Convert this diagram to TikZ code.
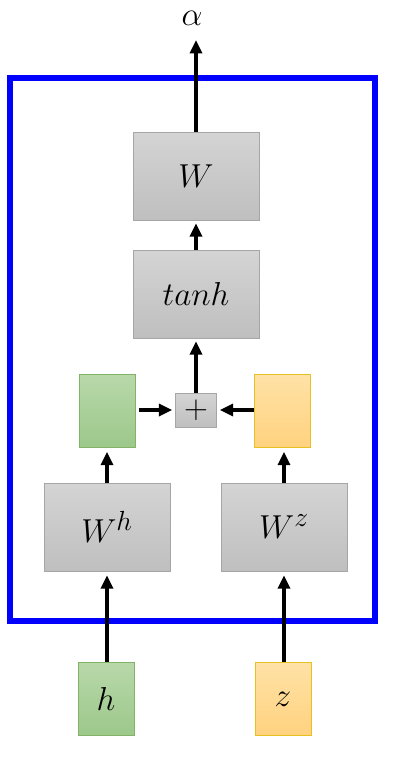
\documentclass[tikz,border=0pt]{standalone}
\usetikzlibrary{arrows.meta}
\begin{document}
\begin{tikzpicture}[x=0.75pt,y=-0.75pt]
\useasboundingbox (0,0) rectangle (400,765);
\definecolor{gfill1}{HTML}{B8D8AA}
\definecolor{gfill2}{HTML}{9CC88A}
\definecolor{gdraw}{HTML}{82B366}
\definecolor{ofill1}{HTML}{FFE2A6}
\definecolor{ofill2}{HTML}{FFD27F}
\definecolor{odraw}{HTML}{E8C020}
\definecolor{gr1}{HTML}{D4D4D4}
\definecolor{gr2}{HTML}{BFBFBF}
\definecolor{grd}{HTML}{A6A6A6}
\tikzset{
  bigfont/.style={font=\fontsize{32}{36}\selectfont},
  graybox/.style={draw=grd, top color=gr1, bottom color=gr2, minimum width=126*0.75pt, minimum height=88*0.75pt, inner sep=0pt, bigfont},
  greenbox/.style={draw=gdraw, top color=gfill1, bottom color=gfill2, inner sep=0pt, bigfont},
  orangebox/.style={draw=odraw, top color=ofill1, bottom color=ofill2, inner sep=0pt, bigfont},
  smallin/.style={minimum width=56*0.75pt, minimum height=73*0.75pt},
  arr/.style={line width=2.5pt, -{Triangle[length=10pt,width=9pt]}},
}
\draw[blue, line width=4pt] (10,78) rectangle (375,621);

\node[graybox] (W) at (196,176) {$W$};
\node[graybox] (tanh) at (196,294) {$tanh$};
\node[graybox] (Wh) at (107,527) {$W^h$};
\node[graybox] (Wz) at (284,527) {$W^z$};
\node[greenbox, smallin] (g) at (107,411) {};
\node[orangebox, smallin] (o) at (282,411) {};
\node[draw=grd, top color=gr1, bottom color=gr2, minimum width=41*0.75pt, minimum height=34*0.75pt, inner sep=0pt, font=\fontsize{28}{32}\selectfont] (plus) at (196,410) {$+$};
\node[greenbox, smallin] (h) at (106,699) {$h$};
\node[orangebox, smallin] (z) at (283,699) {$z$};
\node[inner sep=0pt, font=\fontsize{34}{38}\selectfont] (alpha) at (192,18) {$\alpha$};

\draw[arr] (Wh.north |- h.north) -- ([yshift=-4*0.75pt]Wh.south);
\draw[arr] (Wz.north |- z.north) -- ([yshift=-4*0.75pt]Wz.south);
\draw[arr] (Wh.north) -- ([yshift=-4*0.75pt]g.south);
\draw[arr] (Wz.north) -- ([yshift=-4*0.75pt]Wz.north |- o.south);
\draw[arr] ([xshift=4*0.75pt]g.east |- plus.west) -- ([xshift=-3*0.75pt]plus.west);
\draw[arr] (o.west |- plus.east) -- ([xshift=3*0.75pt]plus.east);
\draw[arr] (plus.north) -- ([yshift=-3*0.75pt]tanh.south);
\draw[arr] (tanh.north) -- ([yshift=-3*0.75pt]W.south);
\draw[arr] (W.north) -- (W.north |- 0,40);
\end{tikzpicture}
\end{document}
